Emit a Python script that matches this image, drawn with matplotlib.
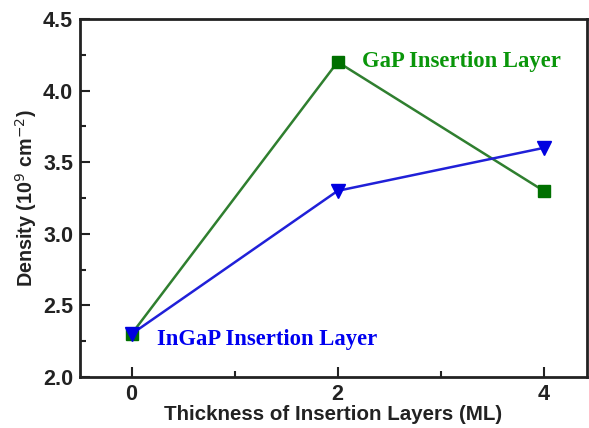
import matplotlib
matplotlib.use("Agg")
import matplotlib.pyplot as plt
from matplotlib.ticker import MultipleLocator

# Island density vs. insertion layer thickness
thickness = [0, 2, 4]
gap_density = [2.3, 4.2, 3.3]
ingap_density = [2.3, 3.3, 3.6]

plt.rcParams['font.family'] = ['Liberation Sans', 'DejaVu Sans']

fig = plt.figure(figsize=(5.89, 4.28), dpi=100)
ax = fig.add_axes([80 / 589, 51 / 428, 507 / 589, 358 / 428])

ax.plot(thickness, gap_density, color='#2f7f2f', lw=1.8,
        marker='s', ms=8, mfc='#007000', mec='#007000', zorder=3)
ax.plot(thickness, ingap_density, color='#2020d8', lw=1.8,
        marker='v', ms=10, mfc='#0000e0', mec='#0000e0', zorder=4)

ax.text(2.24, 4.2, 'GaP Insertion Layer', color='#0a960a', fontsize=16.3,
        fontweight='bold', family='Liberation Serif', va='center', ha='left')
ax.text(0.245, 2.26, 'InGaP Insertion Layer', color='#0000f0', fontsize=16.3,
        fontweight='bold', family='Liberation Serif', va='center', ha='left')

ax.set_xlim(-0.5, 4.42)
ax.set_ylim(2.0, 4.5)
ax.set_xticks([0, 2, 4])
ax.xaxis.set_minor_locator(MultipleLocator(1))
ax.set_yticks([2.0, 2.5, 3.0, 3.5, 4.0, 4.5])
ax.yaxis.set_minor_locator(MultipleLocator(0.25))
ax.set_yticklabels(['2.0', '2.5', '3.0', '3.5', '4.0', '4.5'])

ax.tick_params(which='both', direction='in', width=1.5, colors='#222222')
ax.tick_params(which='major', length=7, labelsize=15.5, pad=5)
ax.tick_params(which='minor', length=4)
for lbl in ax.get_xticklabels() + ax.get_yticklabels():
    lbl.set_fontweight('bold')

for side in ['left', 'bottom', 'top', 'right']:
    ax.spines[side].set_linewidth(2)
    ax.spines[side].set_color('#222222')

ax.set_xlabel('Thickness of Insertion Layers (ML)', fontsize=14.8,
              fontweight='bold', color='#222222', labelpad=0)
ax.set_ylabel('Density (10$^{9}$ cm$^{-2}$)', fontsize=14.2,
              fontweight='bold', color='#222222', labelpad=3)

fig.savefig('out.png', dpi=100)
